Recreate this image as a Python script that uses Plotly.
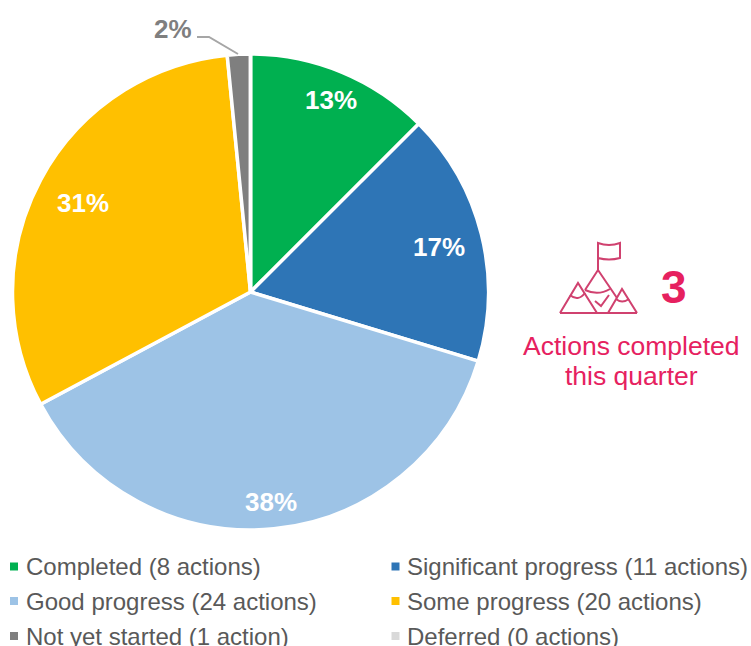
import plotly.graph_objects as go

categories = ["Completed", "Significant progress", "Good progress", "Some progress", "Not yet started", "Deferred"]
actions = [8, 11, 24, 20, 1, 0]
colors = ["#00B050", "#2E75B6", "#9DC3E6", "#FFC000", "#7F7F7F", "#D9D9D9"]
pct_labels = ["13%", "17%", "38%", "31%", "2%"]
pct_pos = [(331, 100), (439, 247), (271, 502), (83, 203), (173, 29)]
completed_this_quarter = "3"
pink = "#E6215F"
icon = "#D0416F"
W, H = 751, 646
cx, cy, r = 250.5, 292, 238
FONT = "Liberation Sans"

fig = go.Figure()
fig.add_trace(go.Pie(
    values=actions, labels=categories, sort=False, direction="clockwise", rotation=0,
    marker=dict(colors=colors, line=dict(color="white", width=3.5)),
    textinfo="none", hoverinfo="label+value", showlegend=False,
    domain=dict(x=[(cx - r) / W, (cx + r) / W], y=[(H - cy - r) / H, (H - cy + r) / H]),
))

ann = []
shapes = []
for i, (t, (x, y)) in enumerate(zip(pct_labels, pct_pos)):
    ann.append(dict(x=x, y=y, text=f"<b>{t}</b>", showarrow=False, xref="x", yref="y",
                    font=dict(family=FONT, size=26, color="#7F7F7F" if i == 4 else "white")))

leg_x = [14, 395.5]
leg_y = [566.5, 601, 636]
for i, (c, n, col) in enumerate(zip(categories, actions, colors)):
    x = leg_x[i % 2]
    y = leg_y[i // 2]
    unit = "action" if n == 1 else "actions"
    shapes.append(dict(type="rect", xref="x", yref="y", x0=x - 4, x1=x + 4, y0=y - 4, y1=y + 4,
                       fillcolor=col, line=dict(width=0)))
    ann.append(dict(x=x + 9.5, y=y, text=f"{c} ({n} {unit})", showarrow=False, xanchor="left",
                    xref="x", yref="y", font=dict(family=FONT, size=24, color="#595959")))

# leader line of the 2% label
shapes.append(dict(type="path", xref="x", yref="y", path="M 197 37 L 209 37 L 238 54",
                   line=dict(color="#A6A6A6", width=2)))

# mountain-and-flag icon
icon_paths = [
    "M 560 313 L 637 313",
    "M 560 313 L 578 283 L 597 313",
    "M 585 290 L 598 270 L 617 298",
    "M 608 313 L 622 289 L 637 313",
    "M 598 270 L 598 243 Q 609 247 620 243 L 620 258 Q 609 261 598 258",
    "M 570 295 Q 578 302 585 293",
    "M 585 290 Q 598 296 610 289",
    "M 616 299 Q 622 304 629 299",
    "M 595 301 L 601 306 L 609 295",
]
for p in icon_paths:
    shapes.append(dict(type="path", xref="x", yref="y", path=p, line=dict(color=icon, width=2)))

ann.append(dict(x=674, y=287, text=f"<b>{completed_this_quarter}</b>", showarrow=False, xref="x", yref="y",
                font=dict(family=FONT, size=46, color=pink)))
ann.append(dict(x=631, y=346, text="Actions completed", showarrow=False, xref="x", yref="y",
                font=dict(family=FONT, size=26.5, color=pink)))
ann.append(dict(x=631, y=376, text="this quarter", showarrow=False, xref="x", yref="y",
                font=dict(family=FONT, size=26.5, color=pink)))

fig.update_layout(
    width=W, height=H, margin=dict(l=0, r=0, t=0, b=0),
    paper_bgcolor="white", plot_bgcolor="rgba(0,0,0,0)", showlegend=False,
    xaxis=dict(range=[0, W], visible=False, domain=[0, 1], fixedrange=True),
    yaxis=dict(range=[H, 0], visible=False, domain=[0, 1], fixedrange=True),
    annotations=ann, shapes=shapes,
)
fig.write_html("out.html", config=dict(displayModeBar=False),
               post_script="document.body.style.margin='0';document.body.style.overflow='hidden';")
